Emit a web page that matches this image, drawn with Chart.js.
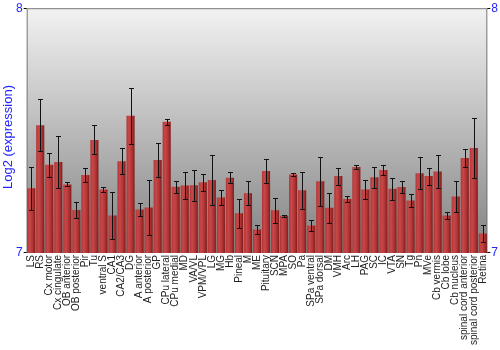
<!DOCTYPE html>
<html>
<head>
<meta charset="utf-8">
<script src="https://cdn.jsdelivr.net/npm/chart.js@4/dist/chart.umd.min.js"></script>
<style>
  html, body { margin: 0; padding: 0; background: #fff; }
  #chart { display: block; }
</style>
</head>
<body>
<canvas id="chart" width="500" height="350"></canvas>
<script>
// regions (x categories)
const regions = [
  'LS', 'RS', 'Cx motor', 'Cx cingulate', 'OB anterior', 'OB posterior', 'Pir', 'Tu',
  'ventral S', 'CA1', 'CA2/CA3', 'DG', 'A anterior', 'A posterior', 'GP', 'CPu lateral',
  'CPu medial', 'MD', 'VA/VL', 'VPM/VPL', 'LG', 'MG', 'Hb', 'Pineal', 'M', 'ME',
  'Pituitary', 'SCN', 'MPA', 'SO', 'Pa', 'SPa ventral', 'SPa dorsal', 'DM', 'VMH', 'Arc',
  'LH', 'PAG', 'SC', 'IC', 'VTA', 'SN', 'Tg', 'Pn', 'MVe', 'Cb vermis', 'Cb lobe',
  'Cb nucleus', 'spinal cord anterior', 'spinal cord posterior', 'Retina'
];

// mean log2 expression
const meanExpr = [
  7.264, 7.522, 7.360, 7.372, 7.280, 7.175, 7.318, 7.462,
  7.259, 7.153, 7.375, 7.561, 7.178, 7.186, 7.380, 7.536,
  7.271, 7.276, 7.277, 7.289, 7.298, 7.227, 7.307, 7.162, 7.244, 7.096,
  7.335, 7.174, 7.152, 7.321, 7.256, 7.112, 7.293, 7.185, 7.314, 7.220,
  7.351, 7.259, 7.309, 7.339, 7.262, 7.269, 7.214, 7.326, 7.314, 7.333, 7.153,
  7.231, 7.388, 7.429, 7.079
];

// error (+/-)
const errExpr = [
  0.089, 0.106, 0.050, 0.107, 0.008, 0.032, 0.030, 0.059,
  0.011, 0.096, 0.052, 0.115, 0.027, 0.113, 0.070, 0.012,
  0.025, 0.056, 0.063, 0.034, 0.104, 0.032, 0.022, 0.058, 0.048, 0.020,
  0.048, 0.052, 0.004, 0.006, 0.076, 0.023, 0.100, 0.062, 0.035, 0.012,
  0.007, 0.040, 0.043, 0.020, 0.044, 0.023, 0.025, 0.065, 0.035, 0.067, 0.013,
  0.064, 0.038, 0.123, 0.034
];

const yMin = 7;
const yMax = 8;
const yTitle = 'Log2 (expression)';
const blue = '#2424ff';

// horizontal shading on each bar
function barFill(c) {
  const chart = c.chart;
  const xs = chart.scales.x;
  if (!xs || !chart.chartArea) return '#b53535';
  const cx = xs.getPixelForValue(c.dataIndex);
  const w = xs.width / regions.length * 0.9;
  const g = chart.ctx.createLinearGradient(cx - w / 2, 0, cx + w / 2, 0);
  g.addColorStop(0, '#b23434');
  g.addColorStop(0.3, '#c64848');
  g.addColorStop(0.7, '#b03232');
  g.addColorStop(1, '#7c1c1c');
  return g;
}

const plotBackground = {
  id: 'plotBackground',
  beforeDatasetsDraw(chart) {
    const { ctx, chartArea: a } = chart;
    const g = ctx.createLinearGradient(0, a.top, 0, a.bottom);
    g.addColorStop(0, '#f2f2f2');
    g.addColorStop(1, '#828282');
    ctx.save();
    ctx.fillStyle = g;
    ctx.fillRect(a.left, a.top, a.right - a.left, a.bottom - a.top);
    ctx.strokeStyle = '#7a7a7a';
    ctx.lineWidth = 1;
    ctx.beginPath();
    ctx.moveTo(a.left + 0.5, a.bottom);
    ctx.lineTo(a.left + 0.5, a.top + 0.5);
    ctx.lineTo(a.right - 0.5, a.top + 0.5);
    ctx.lineTo(a.right - 0.5, a.bottom);
    ctx.stroke();
    ctx.restore();
  },
  // y title sits a bit below the plot centre in the original
  afterDraw(chart) {
    const { ctx } = chart;
    ctx.save();
    ctx.translate(8.5, 137);
    ctx.rotate(-Math.PI / 2);
    ctx.fillStyle = blue;
    ctx.font = '13px "Liberation Sans"';
    ctx.textAlign = 'center';
    ctx.textBaseline = 'middle';
    ctx.fillText(yTitle, 0, 0);
    ctx.restore();
  }
};

const errorBars = {
  id: 'errorBars',
  afterDatasetsDraw(chart) {
    const { ctx } = chart;
    const ys = chart.scales.y;
    const meta = chart.getDatasetMeta(0);
    ctx.save();
    ctx.strokeStyle = '#111';
    ctx.lineWidth = 1;
    meta.data.forEach((bar, i) => {
      const x = Math.round(bar.x) + 0.5;
      const top = Math.round(ys.getPixelForValue(meanExpr[i] + errExpr[i])) + 0.5;
      const bot = Math.round(ys.getPixelForValue(meanExpr[i] - errExpr[i])) + 0.5;
      ctx.beginPath();
      ctx.moveTo(x, top);
      ctx.lineTo(x, bot);
      ctx.moveTo(x - 2.5, top);
      ctx.lineTo(x + 2.5, top);
      ctx.moveTo(x - 2.5, bot);
      ctx.lineTo(x + 2.5, bot);
      ctx.stroke();
    });
    ctx.restore();
  }
};

new Chart(document.getElementById('chart').getContext('2d'), {
  type: 'bar',
  data: {
    labels: regions,
    datasets: [{
      data: meanExpr,
      backgroundColor: barFill,
      borderWidth: 0,
      barPercentage: 0.9,
      categoryPercentage: 1
    }]
  },
  options: {
    responsive: false,
    animation: false,
    events: [],
    layout: { padding: { top: 2, right: 1, bottom: 3, left: 15 } },
    plugins: {
      legend: { display: false },
      tooltip: { enabled: false }
    },
    scales: {
      x: {
        grid: { display: false, drawTicks: false },
        border: { display: false },
        ticks: {
          autoSkip: false,
          maxRotation: 90,
          minRotation: 90,
          padding: 2,
          color: '#222',
          font: { family: 'Liberation Sans', size: 10 }
        }
      },
      y: {
        position: 'left',
        min: yMin,
        max: yMax,
        border: { display: false },
        grid: { drawOnChartArea: false, drawTicks: true, tickLength: 3, color: '#000' },
        ticks: {
          stepSize: 1,
          padding: 1,
          color: blue,
          font: { family: 'Liberation Sans', size: 12 }
        }
      },
      y2: {
        position: 'right',
        min: yMin,
        max: yMax,
        border: { display: false },
        grid: { drawOnChartArea: false, drawTicks: true, tickLength: 3, color: '#000' },
        ticks: {
          stepSize: 1,
          padding: 1,
          color: blue,
          font: { family: 'Liberation Sans', size: 12 }
        }
      }
    }
  },
  plugins: [plotBackground, errorBars]
});
</script>
</body>
</html>
